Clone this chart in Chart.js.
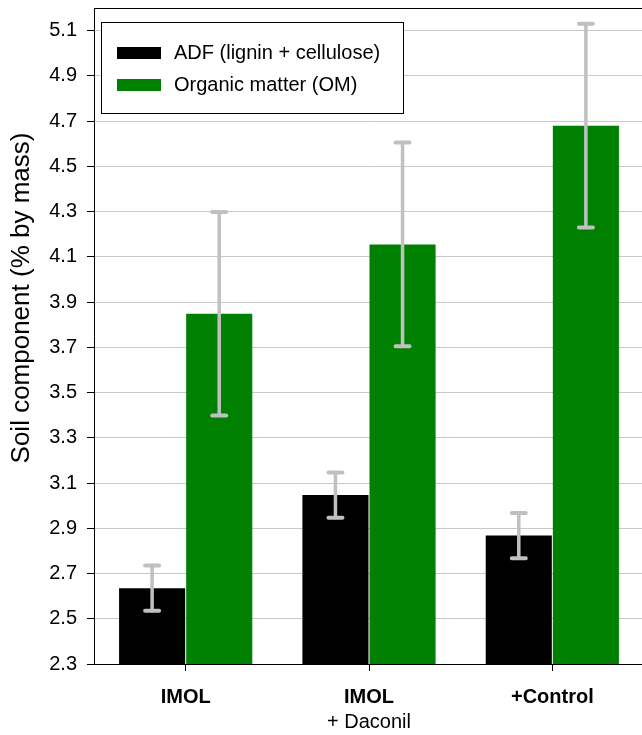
<!DOCTYPE html>
<html><head><meta charset="utf-8">
<script src="https://cdn.jsdelivr.net/npm/chart.js@4"></script>
<style>
html,body{margin:0;padding:0;overflow:hidden;background:#fff}
#wrap{width:642px;height:735px;overflow:hidden;position:relative}
#c{position:absolute;left:0;top:0}
</style></head><body>
<div id="wrap"><canvas id="c" width="660" height="735"></canvas></div>
<script>
const categories = [["IMOL"], ["IMOL", "+ Daconil"], ["+Control"]];
const seriesNames = ["ADF (lignin + cellulose)", "Organic matter (OM)"];
const adf = [2.635, 3.047, 2.868];
const adfErr = [0.10, 0.10, 0.10];
const om = [3.848, 4.155, 4.680];
const omErr = [0.45, 0.45, 0.45];
const yTicks = [2.3, 2.5, 2.7, 2.9, 3.1, 3.3, 3.5, 3.7, 3.9, 4.1, 4.3, 4.5, 4.7, 4.9, 5.1];
const errs = [adfErr, omErr];
const FONT = "'Liberation Sans', Arial, sans-serif";

const errorBars = {
  id: 'errorBars',
  afterDatasetsDraw(chart) {
    const ctx = chart.ctx, y = chart.scales.y;
    ctx.save();
    ctx.strokeStyle = '#c0c0c0';
    ctx.lineCap = 'round';
    chart.data.datasets.forEach((ds, i) => {
      const meta = chart.getDatasetMeta(i);
      meta.data.forEach((bar, j) => {
        const v = ds.data[j], e = errs[i][j];
        const x = bar.x, yt = y.getPixelForValue(v + e), yb = y.getPixelForValue(v - e);
        ctx.lineWidth = 3.5;
        ctx.beginPath(); ctx.moveTo(x, yt); ctx.lineTo(x, yb); ctx.stroke();
        ctx.lineWidth = 4;
        ctx.beginPath(); ctx.moveTo(x - 7, yt); ctx.lineTo(x + 7, yt);
        ctx.moveTo(x - 7, yb); ctx.lineTo(x + 7, yb); ctx.stroke();
      });
    });
    ctx.restore();
  }
};

const decor = {
  id: 'decor',
  afterDraw(chart) {
    const ctx = chart.ctx, a = chart.chartArea, xs = chart.scales.x;
    ctx.save();
    ctx.strokeStyle = '#000'; ctx.lineWidth = 1;
    ctx.beginPath(); ctx.moveTo(a.left, a.top + 0.5); ctx.lineTo(a.right, a.top + 0.5); ctx.stroke();
    ctx.save();
    ctx.translate(22, 298);
    ctx.rotate(-Math.PI / 2);
    ctx.fillStyle = '#000';
    ctx.font = "26px " + FONT;
    ctx.textAlign = 'center'; ctx.textBaseline = 'middle';
    ctx.fillText('Soil component (% by mass)', 0, 0);
    ctx.restore();
    ctx.fillStyle = '#000'; ctx.textAlign = 'center'; ctx.textBaseline = 'middle';
    categories.forEach((lines, i) => {
      const x = xs.getPixelForValue(i);
      lines.forEach((t, k) => {
        ctx.font = (k === 0 ? "bold " : "") + "20px " + FONT;
        ctx.fillText(t, x, 697 + k * 25);
      });
    });
    const L = 101, T = 22, W = 302, H = 91;
    ctx.fillStyle = '#fff';
    ctx.fillRect(L, T, W, H);
    ctx.strokeStyle = '#000'; ctx.lineWidth = 1;
    ctx.strokeRect(L + 0.5, T + 0.5, W, H);
    chart.data.datasets.forEach((ds, i) => {
      const cy = 53 + i * 32;
      ctx.fillStyle = ds.backgroundColor;
      ctx.fillRect(117, cy - 6, 44, 12);
      ctx.fillStyle = '#000';
      ctx.font = "20px " + FONT;
      ctx.textAlign = 'left'; ctx.textBaseline = 'middle';
      ctx.fillText(ds.label, 174, cy);
    });
    ctx.restore();
  }
};

new Chart(document.getElementById('c'), {
  type: 'bar',
  data: {
    labels: categories.map(c => c.join(' ')),
    datasets: [
      { label: seriesNames[0], data: adf, backgroundColor: '#000000', borderWidth: 0 },
      { label: seriesNames[1], data: om, backgroundColor: '#008000', borderWidth: 0 }
    ]
  },
  options: {
    responsive: false,
    animation: false,
    datasets: { bar: { barPercentage: 0.985, categoryPercentage: 0.732 } },
    layout: { padding: { top: 8, right: 16, left: 0, bottom: 0 } },
    plugins: { legend: { display: false }, tooltip: { enabled: false }, title: { display: false } },
    scales: {
      x: {
        offset: true,
        grid: { display: true, drawOnChartArea: false, drawTicks: true, tickLength: 7, offset: false, tickColor: '#000' },
        border: { display: true, color: '#000', width: 1 },
        ticks: { display: false },
        afterFit(s) { s.height = 71; s.paddingLeft = 0; s.paddingRight = 0; }
      },
      y: {
        min: 2.3, max: 5.2,
        afterBuildTicks(s) { s.ticks = yTicks.map(v => ({ value: v })); },
        grid: { color: '#c8c8c8', lineWidth: 1, tickLength: 7, tickColor: '#000' },
        border: { display: true, color: '#000', width: 1 },
        ticks: { color: '#000', padding: 10, font: { family: FONT, size: 20 }, callback: v => Number(v).toFixed(1) },
        afterFit(s) { s.width = 94; s.paddingTop = 0; s.paddingBottom = 0; }
      }
    }
  },
  plugins: [errorBars, decor]
});
</script>
</body></html>
